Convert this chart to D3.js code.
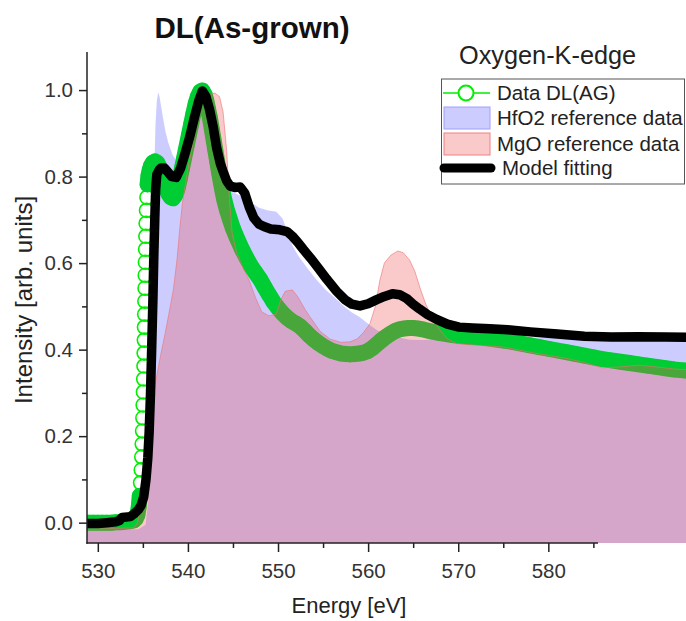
<!DOCTYPE html>
<html>
<head>
<meta charset="utf-8">
<script src="https://cdn.jsdelivr.net/npm/d3@7"></script>
<style>
  body { margin: 0; background: #fff; }
  svg { display: block; font-family: "Liberation Sans", Arial, sans-serif; }
</style>
</head>
<body>
<script>
const width = 686;
const height = 621;

// Data DL(AG), open green circles
const dataE = [528.5, 529, 529.5, 530, 530.5, 531, 531.5, 532, 532.5, 533, 533.5, 534,
  534.2, 534.4, 534.55, 534.65, 534.75, 534.82, 534.88, 534.93, 534.97, 535.0, 535.03, 535.06,
  535.09, 535.12, 535.14, 535.16, 535.18, 535.2, 535.22, 535.24, 535.26, 535.28, 535.3, 535.33,
  535.36, 535.4, 535.45, 535.52, 535.62, 535.75, 535.9, 536.1, 536.35, 536.6, 536.85, 537.1,
  537.35, 537.6, 537.85, 538.1, 538.35, 538.6, 538.85, 539.1, 539.35, 539.6, 539.85, 540.1,
  540.35, 540.6, 540.85, 541.1, 541.35, 541.6, 541.85, 542.05, 542.25, 542.45, 542.65, 542.85,
  543.05, 543.25, 543.45, 543.65, 543.85, 544.05, 544.3, 544.6, 545, 545.5, 546, 546.5,
  547, 547.5, 548, 548.5, 549, 549.5, 550, 550.5, 551, 551.5, 552, 552.5,
  553, 553.5, 554, 554.5, 555, 555.5, 556, 556.5, 557, 557.5, 558, 558.5,
  559, 559.5, 560, 560.5, 561, 561.5, 562, 562.5, 563, 563.5, 564, 564.5,
  565, 565.5, 566, 567, 568, 569, 570, 571, 572, 573, 574, 575,
  576, 577, 578, 579, 580, 581, 582, 583, 584, 585, 586, 587,
  588, 589, 590, 591, 592, 593, 594, 595, 596, 597];
const dataI = [0, 0, 0, 0, 0, 0, 0, 0.001, 0.001, 0.002, 0.003, 0.005,
  0.009, 0.018, 0.038, 0.062, 0.092, 0.122, 0.152, 0.182, 0.212, 0.242, 0.272, 0.302,
  0.332, 0.362, 0.392, 0.422, 0.452, 0.482, 0.512, 0.542, 0.572, 0.602, 0.632, 0.662,
  0.692, 0.722, 0.752, 0.782, 0.802, 0.815, 0.825, 0.832, 0.835, 0.832, 0.822, 0.807,
  0.79, 0.773, 0.76, 0.752, 0.75, 0.757, 0.772, 0.795, 0.82, 0.845, 0.87, 0.895,
  0.92, 0.945, 0.968, 0.985, 0.996, 0.999, 0.99, 0.975, 0.955, 0.935, 0.91, 0.885,
  0.86, 0.835, 0.81, 0.787, 0.765, 0.745, 0.725, 0.705, 0.68, 0.655, 0.632, 0.612,
  0.593, 0.578, 0.563, 0.545, 0.527, 0.51, 0.496, 0.484, 0.474, 0.466, 0.46, 0.453,
  0.443, 0.432, 0.423, 0.415, 0.408, 0.402, 0.397, 0.394, 0.391, 0.39, 0.389, 0.39,
  0.391, 0.393, 0.397, 0.404, 0.413, 0.422, 0.43, 0.437, 0.443, 0.447, 0.449, 0.45,
  0.45, 0.449, 0.447, 0.442, 0.438, 0.435, 0.432, 0.43, 0.429, 0.427, 0.424, 0.421,
  0.418, 0.414, 0.41, 0.406, 0.402, 0.398, 0.394, 0.39, 0.386, 0.382, 0.378, 0.375,
  0.372, 0.369, 0.366, 0.363, 0.36, 0.357, 0.354, 0.352, 0.35, 0.348];

// HfO2 reference (blue fill)
const hfo2E = [528.8, 534.5, 535.3, 535.6, 535.8, 535.95, 536.1, 536.25, 536.4, 536.55, 536.7, 536.85,
  537.0, 537.2, 537.5, 537.8, 538.3, 538.8, 539.3, 539.8, 540.3, 540.8, 541.2, 541.6,
  542.0, 542.5, 543.0, 543.6, 544.3, 545.0, 545.6, 546.2, 547.0, 547.9, 548.8, 549.8,
  550.5, 551.0, 551.6, 552.3, 553.2, 554.2, 555.3, 556.3, 557.3, 558.2, 559.0, 560.0,
  561.0, 562.0, 563.0, 564.6, 566, 568, 570, 575, 580, 585, 590, 597];
const hfo2I = [-0.015, -0.015, -0.005, 0.05, 0.15, 0.35, 0.6, 0.8, 0.92, 0.975, 0.995, 0.985,
  0.965, 0.94, 0.905, 0.88, 0.85, 0.835, 0.845, 0.87, 0.9, 0.935, 0.95, 0.945,
  0.92, 0.87, 0.825, 0.795, 0.775, 0.763, 0.758, 0.752, 0.74, 0.728, 0.722, 0.719,
  0.703, 0.675, 0.64, 0.615, 0.59, 0.563, 0.538, 0.52, 0.5, 0.486, 0.476, 0.46,
  0.445, 0.436, 0.43, 0.423, 0.422, 0.424, 0.426, 0.428, 0.428, 0.426, 0.425, 0.424];

// MgO reference (red fill)
const mgoE = [528.8, 534.0, 534.4, 534.8, 535.1, 535.4, 535.7, 536.0, 536.5, 537.0, 537.5, 538.0,
  538.4, 538.8, 539.1, 539.4, 539.7, 540.1, 540.5, 540.9, 541.2, 541.6, 542.0, 542.5,
  543.0, 543.5, 543.9, 544.3, 544.6, 544.9, 545.4, 546.0, 546.8, 547.5, 548.2, 549.0,
  549.8, 550.3, 550.8, 551.6, 552.2, 553.0, 553.6, 554.7, 555.8, 557.0, 558.0, 558.8,
  559.5, 560.2, 560.8, 561.3, 561.8, 562.5, 563.3, 563.9, 564.6, 565.2, 565.8, 566.4,
  567.0, 567.9, 568.8, 569.8, 572.0, 575.0, 578.5, 582.0, 584, 586, 588, 590,
  592, 594, 597];
const mgoI = [-0.015, -0.012, 0.0, 0.04, 0.09, 0.16, 0.23, 0.28, 0.335, 0.39, 0.44, 0.495,
  0.54, 0.61, 0.68, 0.74, 0.78, 0.83, 0.87, 0.92, 0.955, 0.985, 0.992, 0.99,
  0.993, 0.985, 0.95, 0.86, 0.75, 0.67, 0.625, 0.595, 0.56, 0.52, 0.487, 0.478,
  0.482, 0.515, 0.535, 0.538, 0.522, 0.493, 0.474, 0.442, 0.424, 0.417, 0.418, 0.425,
  0.44, 0.46, 0.5, 0.56, 0.6, 0.618, 0.628, 0.624, 0.607, 0.58, 0.54, 0.505,
  0.478, 0.447, 0.425, 0.414, 0.41, 0.406, 0.392, 0.38, 0.37, 0.358, 0.36, 0.364,
  0.36, 0.355, 0.353];

// Model fitting (black line)
const fitE = [528.8, 530, 531, 532, 532.4, 532.7, 533.6, 534.0, 534.5, 534.8, 535.1, 535.35,
  535.55, 535.7, 535.85, 536.0, 536.12, 536.22, 536.32, 536.42, 536.55, 536.8, 537.0, 537.4,
  537.8, 538.2, 538.7, 539.2, 539.7, 540.2, 540.7, 541.2, 541.6, 542.0, 542.4, 542.8,
  543.2, 543.6, 543.9, 544.3, 544.7, 545.2, 545.8, 546.3, 546.8, 547.3, 547.9, 548.5,
  549.2, 550.2, 551.0, 551.6, 552.2, 552.8, 553.6, 554.5, 555.4, 556.5, 557.4, 558.2,
  559.1, 560.0, 560.9, 561.8, 562.7, 563.5, 564.3, 565.0, 565.7, 566.6, 567.6, 568.8,
  570.1, 571.6, 573.5, 575.5, 578, 581, 584, 587, 590, 593, 597];
const fitI = [-0.002, -0.002, 0.0, 0.002, 0.005, 0.012, 0.014, 0.02, 0.03, 0.04, 0.06, 0.1,
  0.15, 0.21, 0.3, 0.42, 0.52, 0.62, 0.7, 0.77, 0.805, 0.815, 0.82, 0.82,
  0.81, 0.8, 0.798, 0.82, 0.855, 0.892, 0.935, 0.975, 0.998, 0.985, 0.955, 0.915,
  0.865, 0.83, 0.812, 0.79, 0.778, 0.775, 0.776, 0.762, 0.73, 0.705, 0.69, 0.684,
  0.679, 0.677, 0.673, 0.662, 0.648, 0.632, 0.612, 0.588, 0.563, 0.535, 0.516, 0.505,
  0.501, 0.506, 0.515, 0.523, 0.529, 0.527, 0.518, 0.505, 0.494, 0.481, 0.47, 0.459,
  0.452, 0.45, 0.448, 0.446, 0.441, 0.436, 0.431, 0.429, 0.43, 0.429, 0.428];

const xMajor = [530, 540, 550, 560, 570, 580];
const xMinor = [535, 545, 555, 565, 575, 585];
const yMajor = [0, 0.2, 0.4, 0.6, 0.8, 1.0];
const yMinor = [0.1, 0.3, 0.5, 0.7, 0.9];
const legendLabels = ["Data DL(AG)", "HfO2 reference data", "MgO reference data", "Model fitting"];

const svg = d3.select('body').append('svg')
    .attr('width', width)
    .attr('height', height);

const x = d3.scaleLinear().domain([528.8, 597]).range([87, 701.5]);
const y = d3.scaleLinear().domain([-0.047, 1.088]).range([543, 52]);

const zip = (es, vs) => es.map((e, i) => ({e: e, v: vs[i]}));

const area = d3.area()
    .x(d => x(d.e))
    .y0(y(-0.047))
    .y1(d => y(d.v));

const line = d3.line()
    .x(d => x(d.e))
    .y(d => y(d.v));

svg.append('clipPath').attr('id', 'plot-clip')
  .append('rect')
    .attr('x', 87).attr('y', 0)
    .attr('width', width).attr('height', 543);

const plot = svg.append('g').attr('clip-path', 'url(#plot-clip)');

// HfO2 fill (bottom layer)
plot.append('path')
    .datum(zip(hfo2E, hfo2I))
    .attr('fill', '#8080ff')
    .attr('fill-opacity', 0.4)
    .attr('d', area);

// green data symbols
const dataPts = zip(dataE, dataI);
plot.append('g').selectAll('circle')
  .data(dataPts)
  .join('circle')
    .attr('cx', d => x(d.e))
    .attr('cy', d => y(d.v))
    .attr('r', 7)
    .attr('fill', 'none')
    .attr('stroke', '#00ee00')
    .attr('stroke-width', 1.6);

// where the symbols sit close together they merge into a solid band:
// collect runs of neighbouring points and stroke each run once
const runs = [];
let run = [dataPts[0]];
d3.pairs(dataPts).forEach(([a, b]) => {
  const gap = Math.hypot(x(b.e) - x(a.e), y(b.v) - y(a.v));
  if (gap < 12.5) {
    run.push(b);
  } else {
    if (run.length > 1) runs.push(run);
    run = [b];
  }
});
if (run.length > 1) runs.push(run);

plot.append('g').selectAll('path')
  .data(runs)
  .join('path')
    .attr('d', line)
    .attr('fill', 'none')
    .attr('stroke', '#00cc33')
    .attr('stroke-width', 16)
    .attr('stroke-linejoin', 'round')
    .attr('stroke-linecap', 'round');

// MgO fill on top of the data
const mgo = zip(mgoE, mgoI);
plot.append('path')
    .datum(mgo)
    .attr('fill', '#f05050')
    .attr('fill-opacity', 0.3)
    .attr('d', area);
plot.append('path')
    .datum(mgo)
    .attr('fill', 'none')
    .attr('stroke', '#f07070')
    .attr('stroke-opacity', 0.6)
    .attr('stroke-width', 1)
    .attr('d', line);

// model fit
plot.append('path')
    .datum(zip(fitE, fitI))
    .attr('fill', 'none')
    .attr('stroke', '#000')
    .attr('stroke-width', 9.5)
    .attr('stroke-linejoin', 'round')
    .attr('stroke-linecap', 'round')
    .attr('d', line);

// axes
const axisColor = '#222';
svg.append('g')
    .attr('transform', 'translate(87,0)')
    .call(d3.axisLeft(y).tickValues(yMajor).tickSize(8).tickPadding(6).tickFormat(d3.format('.1f')));
svg.append('g')
    .attr('transform', 'translate(87,0)')
    .call(d3.axisLeft(y).tickValues(yMinor).tickSize(5).tickFormat(''));

svg.append('g')
    .attr('transform', 'translate(0,543)')
    .call(d3.axisBottom(x).tickValues(xMajor).tickSize(9).tickPadding(11));
svg.append('g')
    .attr('transform', 'translate(0,543)')
    .call(d3.axisBottom(x).tickValues(xMinor).tickSize(5).tickFormat(''));

svg.selectAll('.domain').remove();
svg.selectAll('.tick line').attr('stroke', axisColor).attr('stroke-width', 1.5);
svg.selectAll('.tick text')
    .attr('fill', '#333')
    .style('font-size', '20.5px')
    .style('font-family', '"Liberation Sans", Arial, sans-serif');

svg.append('line')
    .attr('x1', 87).attr('x2', 87)
    .attr('y1', 52).attr('y2', 543.75)
    .attr('stroke', axisColor).attr('stroke-width', 1.5);
svg.append('line')
    .attr('x1', 86.25).attr('x2', 598)
    .attr('y1', 543).attr('y2', 543)
    .attr('stroke', axisColor).attr('stroke-width', 1.5);

// axis titles
svg.append('text')
    .attr('x', 349).attr('y', 613)
    .attr('text-anchor', 'middle')
    .attr('fill', '#222')
    .style('font-size', '22px')
    .text('Energy [eV]');

svg.append('text')
    .attr('transform', 'translate(32,300) rotate(-90)')
    .attr('text-anchor', 'middle')
    .attr('fill', '#222')
    .style('font-size', '24px')
    .text('Intensity [arb. units]');

// title
svg.append('text')
    .attr('x', 252).attr('y', 38)
    .attr('text-anchor', 'middle')
    .attr('fill', '#111')
    .style('font-size', '29.5px')
    .style('font-weight', 'bold')
    .text('DL(As-grown)');

svg.append('text')
    .attr('x', 459).attr('y', 64)
    .attr('fill', '#222')
    .style('font-size', '25.3px')
    .text('Oxygen-K-edge');

// legend
const legend = svg.append('g');
legend.append('rect')
    .attr('x', 441.5).attr('y', 79)
    .attr('width', 243).attr('height', 105)
    .attr('fill', '#fff')
    .attr('stroke', '#555')
    .attr('stroke-width', 1);

const rowY = [93, 118, 144, 168];
const textX = [497, 497, 497, 502];

legend.append('line')
    .attr('x1', 443).attr('x2', 490)
    .attr('y1', rowY[0]).attr('y2', rowY[0])
    .attr('stroke', '#00ee00').attr('stroke-width', 1.5);
legend.append('circle')
    .attr('cx', 466).attr('cy', rowY[0]).attr('r', 7.5)
    .attr('fill', '#fff')
    .attr('stroke', '#00ee00').attr('stroke-width', 2);

legend.append('rect')
    .attr('x', 444).attr('y', rowY[1] - 11)
    .attr('width', 46).attr('height', 22)
    .attr('fill', '#8080ff').attr('fill-opacity', 0.4)
    .attr('stroke', '#a0a0ff').attr('stroke-width', 1);

legend.append('rect')
    .attr('x', 444).attr('y', rowY[2] - 11)
    .attr('width', 46).attr('height', 22)
    .attr('fill', '#f05050').attr('fill-opacity', 0.3)
    .attr('stroke', '#f08080').attr('stroke-width', 1);

legend.append('line')
    .attr('x1', 444).attr('x2', 491)
    .attr('y1', rowY[3]).attr('y2', rowY[3])
    .attr('stroke', '#000').attr('stroke-width', 9)
    .attr('stroke-linecap', 'round');

legend.selectAll('text.lab')
  .data(legendLabels)
  .join('text')
    .attr('class', 'lab')
    .attr('x', (d, i) => textX[i])
    .attr('y', (d, i) => rowY[i] + 7)
    .attr('fill', '#222')
    .style('font-size', '20.5px')
    .text(d => d);
</script>
</body>
</html>
